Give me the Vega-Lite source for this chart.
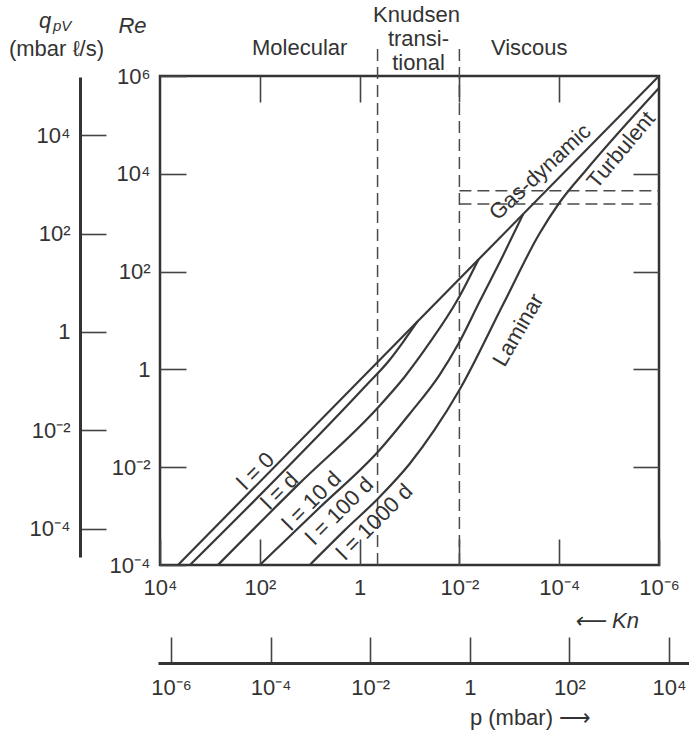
{
  "$schema": "https://vega.github.io/schema/vega-lite/v6.json",
  "width": 499,
  "height": 489,
  "autosize": {"type": "none"},
  "padding": {"left": 160, "top": 76, "right": 30, "bottom": 173},
  "background": "white",
  "config": {
    "view": {"stroke": "#333333", "strokeWidth": 2.5},
    "font": "Liberation Sans",
    "axis": {"labelFont": "Liberation Sans", "labelFontSize": 22, "labelColor": "#333333", "titleFont": "Liberation Sans", "titleFontSize": 22, "titleColor": "#333333", "titleFontWeight": "normal", "grid": false, "labelFlush": false, "labelOverlap": false, "labelBound": false, "tickColor": "#444444", "tickWidth": 1.6}
  },
  "datasets": {
    "curves": [
      {"curve": "A", "Kn": 4365, "Re": 0.0001},
      {"curve": "A", "Kn": 0.000001, "Re": 1000000},
      {"curve": "B", "Kn": 2512, "Re": 0.0001},
      {"curve": "B", "Kn": 0.794, "Re": 0.436},
      {"curve": "B", "Kn": 0.251, "Re": 1.556},
      {"curve": "B", "Kn": 0.126, "Re": 3.99},
      {"curve": "B", "Kn": 0.0692, "Re": 9.55},
      {"curve": "C", "Kn": 691.8, "Re": 0.0001},
      {"curve": "C", "Kn": 17.4, "Re": 0.0043},
      {"curve": "C", "Kn": 0.4365, "Re": 0.1626},
      {"curve": "C", "Kn": 0.1259, "Re": 0.7},
      {"curve": "C", "Kn": 0.0398, "Re": 3.467},
      {"curve": "C", "Kn": 0.01096, "Re": 26.24},
      {"curve": "C", "Kn": 0.004169, "Re": 175.8},
      {"curve": "D", "Kn": 100, "Re": 0.0001},
      {"curve": "D", "Kn": 6.3, "Re": 0.0015},
      {"curve": "D", "Kn": 0.398, "Re": 0.02249},
      {"curve": "D", "Kn": 0.1, "Re": 0.1225},
      {"curve": "D", "Kn": 0.0251, "Re": 0.767},
      {"curve": "D", "Kn": 0.01, "Re": 3.63},
      {"curve": "D", "Kn": 0.00398, "Re": 23.9},
      {"curve": "D", "Kn": 0.00138, "Re": 199},
      {"curve": "D", "Kn": 0.000525, "Re": 1507},
      {"curve": "E", "Kn": 10, "Re": 0.0001},
      {"curve": "E", "Kn": 2, "Re": 0.00051},
      {"curve": "E", "Kn": 0.398, "Re": 0.00246},
      {"curve": "E", "Kn": 0.1, "Re": 0.01161},
      {"curve": "E", "Kn": 0.0316, "Re": 0.0577},
      {"curve": "E", "Kn": 0.01, "Re": 0.379},
      {"curve": "E", "Kn": 0.001259, "Re": 23.9},
      {"curve": "E", "Kn": 0.0002512, "Re": 587},
      {"curve": "E", "Kn": 0.0001, "Re": 2529},
      {"curve": "E", "Kn": 0.00002884, "Re": 11970},
      {"curve": "E", "Kn": 0.000001, "Re": 569000}
    ],
    "vdash": [
      {"Kn": 0.4365, "Re": 0.0001, "Re2": 3980000},
      {"Kn": 0.01, "Re": 0.0001, "Re2": 3980000}
    ],
    "hdash": [
      {"Kn": 0.01, "Kn2": 0.000001, "Re": 4500},
      {"Kn": 0.01, "Kn2": 0.000001, "Re": 2400}
    ],
    "regions": [
      {"label": "Molecular", "Kn": 15.85, "Re": 3740000},
      {"label": "Knudsen", "Kn": 0.0724, "Re": 17660000},
      {"label": "transi-", "Kn": 0.0661, "Re": 5720000},
      {"label": "tional", "Kn": 0.0661, "Re": 1845000},
      {"label": "Viscous", "Kn": 0.000398, "Re": 3740000}
    ],
    "llabels": [
      {"label": "l = 0", "Kn": 120.2, "Re": 0.00835},
      {"label": "l = d", "Kn": 39.8, "Re": 0.00326},
      {"label": "l = 10 d", "Kn": 9.12, "Re": 0.00204},
      {"label": "l = 100 d", "Kn": 2.512, "Re": 0.00127},
      {"label": "l = 1000 d", "Kn": 0.501, "Re": 0.000757}
    ],
    "gaslabel": [{"label": "Gas-dynamic", "Kn": 0.00024, "Re": 10900}],
    "turblabel": [{"label": "Turbulent", "Kn": 0.00000575, "Re": 30700}],
    "lamlabel": [{"label": "Laminar", "Kn": 0.00066, "Re": 6.4}],
    "qsym": [{"label": "q", "Kn": 1995000, "Re": 13340000}],
    "qsub": [{"label": "pV", "Kn": 912000, "Re": 10520000}],
    "pticks": [{"p": 0.000001}, {"p": 10000}],
    "qticks": [{"q": 0.0001}, {"q": 10000}]
  },
  "resolve": {"scale": {"x": "independent", "y": "independent"}, "axis": {"x": "independent", "y": "independent"}},
  "layer": [
    {
      "encoding": {
        "x": {"field": "Kn", "type": "quantitative", "scale": {"type": "log", "domain": [0.000001, 10000], "reverse": true, "nice": false, "zero": false},
          "axis": {"orient": "bottom", "values": [10000, 100, 1, 0.01, 0.0001, 0.000001], "domain": false, "tickSize": -26, "labelPadding": 38,
            "labelExpr": "datum.value == 1 ? '1' : '10' + replace(replace(replace(replace('' + round(log(datum.value) / LN10), '-', '⁻'), '2', '²'), '4', '⁴'), '6', '⁶')",
            "title": "⟵ Kn", "titleFontStyle": "italic", "titleX": 446, "titleY": 55, "titleAlign": "center", "titleBaseline": "middle"}},
        "y": {"field": "Re", "type": "quantitative", "scale": {"type": "log", "domain": [0.0001, 1000000], "nice": false, "zero": false},
          "axis": {"orient": "left", "values": [0.0001, 0.01, 1, 100, 10000, 1000000], "domain": false, "tickSize": -26, "labelPadding": 36,
            "labelExpr": "datum.value == 1 ? '1' : '10' + replace(replace(replace(replace('' + round(log(datum.value) / LN10), '-', '⁻'), '2', '²'), '4', '⁴'), '6', '⁶')",
            "title": "Re", "titleFontStyle": "italic", "titleAngle": 0, "titleX": -28, "titleY": -51, "titleAlign": "center", "titleBaseline": "middle"}}
      },
      "layer": [
        {"data": {"name": "vdash"}, "mark": {"type": "rule", "strokeDash": [12, 6], "color": "#4a4a4a", "strokeWidth": 1.5, "clip": false}, "encoding": {"y2": {"field": "Re2"}}},
        {"data": {"name": "hdash"}, "mark": {"type": "rule", "strokeDash": [12, 6], "color": "#4a4a4a", "strokeWidth": 1.5, "clip": false}, "encoding": {"x2": {"field": "Kn2"}}},
        {"data": {"name": "curves"}, "mark": {"type": "line", "interpolate": "monotone", "color": "#383838", "strokeWidth": 2.2, "clip": false}, "encoding": {"detail": {"field": "curve"}, "order": {"field": "Kn", "sort": "descending"}}},
        {"data": {"name": "regions"}, "mark": {"type": "text", "fontSize": 22, "color": "#333333", "align": "center", "baseline": "middle", "font": "Liberation Sans"}, "encoding": {"text": {"field": "label"}}},
        {"data": {"name": "llabels"}, "mark": {"type": "text", "fontSize": 22, "color": "#333333", "align": "center", "baseline": "middle", "angle": 315, "font": "Liberation Sans"}, "encoding": {"text": {"field": "label"}}},
        {"data": {"name": "gaslabel"}, "mark": {"type": "text", "fontSize": 22, "color": "#333333", "align": "center", "baseline": "middle", "angle": 317, "font": "Liberation Sans"}, "encoding": {"text": {"field": "label"}}},
        {"data": {"name": "turblabel"}, "mark": {"type": "text", "fontSize": 22, "color": "#333333", "align": "center", "baseline": "middle", "angle": 310, "font": "Liberation Sans"}, "encoding": {"text": {"field": "label"}}},
        {"data": {"name": "lamlabel"}, "mark": {"type": "text", "fontSize": 22, "color": "#333333", "align": "center", "baseline": "middle", "angle": 300, "font": "Liberation Sans"}, "encoding": {"text": {"field": "label"}}},
        {"data": {"name": "qsym"}, "mark": {"type": "text", "fontSize": 22, "fontStyle": "italic", "color": "#333333", "align": "center", "baseline": "middle", "font": "Liberation Sans"}, "encoding": {"text": {"field": "label"}}},
        {"data": {"name": "qsub"}, "mark": {"type": "text", "fontSize": 15, "fontStyle": "italic", "color": "#333333", "align": "center", "baseline": "middle", "font": "Liberation Sans"}, "encoding": {"text": {"field": "label"}}}
      ]
    },
    {
      "data": {"name": "curves"},
      "mark": {"type": "point", "opacity": 0},
      "encoding": {
        "x": {"field": "Kn", "type": "quantitative", "scale": {"type": "log", "domain": [0.000001, 10000], "reverse": true, "nice": false, "zero": false},
          "axis": {"orient": "top", "values": [100, 1, 0.01, 0.0001], "domain": false, "labels": false, "tickSize": -26, "title": null}},
        "y": {"field": "Re", "type": "quantitative", "scale": {"type": "log", "domain": [0.0001, 1000000], "nice": false, "zero": false},
          "axis": {"orient": "right", "values": [0.01, 1, 100, 10000], "domain": false, "labels": false, "tickSize": -26, "title": null}}
      }
    },
    {
      "data": {"name": "pticks"},
      "mark": {"type": "point", "opacity": 0},
      "encoding": {
        "x": {"field": "p", "type": "quantitative", "scale": {"type": "log", "domain": [5.48e-7, 25200], "range": [-2, 529], "nice": false, "zero": false},
          "axis": {"orient": "bottom", "offset": 98, "values": [0.000001, 0.0001, 0.01, 1, 100, 10000], "domain": true, "domainColor": "#333333", "domainWidth": 3, "tickSize": -26, "labelPadding": 40,
            "labelExpr": "datum.value == 1 ? '1' : '10' + replace(replace(replace(replace('' + round(log(datum.value) / LN10), '-', '⁻'), '2', '²'), '4', '⁴'), '6', '⁶')",
            "title": "p (mbar) ⟶", "titleX": 370, "titleY": 54, "titleAlign": "center", "titleBaseline": "middle"}}
      }
    },
    {
      "data": {"name": "qticks"},
      "mark": {"type": "point", "opacity": 0},
      "encoding": {
        "y": {"field": "q", "type": "quantitative", "scale": {"type": "log", "domain": [0.00002698, 150700], "range": [481, 1], "nice": false, "zero": false},
          "axis": {"orient": "left", "offset": 80, "values": [0.0001, 0.01, 1, 100, 10000], "domain": true, "domainColor": "#333333", "domainWidth": 3, "tickSize": -26, "labelPadding": 36,
            "labelExpr": "datum.value == 1 ? '1' : '10' + replace(replace(replace(replace('' + round(log(datum.value) / LN10), '-', '⁻'), '2', '²'), '4', '⁴'), '6', '⁶')",
            "title": "(mbar ℓ/s)", "titleAngle": 0, "titleX": -24, "titleY": -28, "titleAlign": "center", "titleBaseline": "middle"}}
      }
    }
  ]
}
